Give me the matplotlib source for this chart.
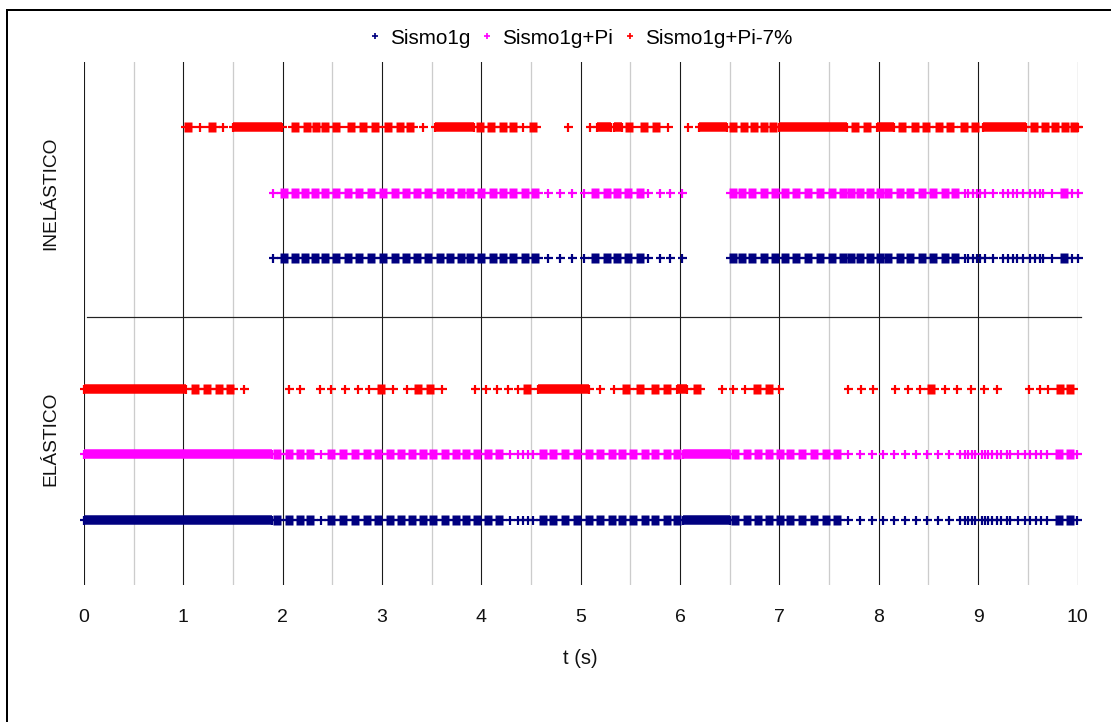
import matplotlib
matplotlib.use("Agg")
import matplotlib.pyplot as plt
from matplotlib.lines import Line2D

plt.rcParams['font.family'] = ['Liberation Sans', 'DejaVu Sans']

# ---------------------------------------------------------------
# State of each analysis along the record (t in seconds).
# spans    : long stretches of consecutive steps in that state
# clusters : short bursts of a few consecutive steps
# singles  : isolated steps
# ---------------------------------------------------------------
series_names = ["Sismo1g", "Sismo1g+Pi", "Sismo1g+Pi-7%"]
series_colors = ["#000080", "#FF00FF", "#FF0000"]
x_ticks = [0, 1, 2, 3, 4, 5, 6, 7, 8, 9, 10]
state_labels = ["ELÁSTICO", "INELÁSTICO"]

# Sismo1g+Pi-7% ------------------------------------------------
red_inel_spans = [(1.50, 1.99), (3.53, 3.93), (5.16, 5.30), (5.33, 5.42),
                  (6.19, 6.47), (7.00, 7.68), (7.98, 8.15), (9.05, 9.48)]
red_inel_clusters = [1.05, 1.285, 2.12, 2.24, 2.34, 2.43, 2.54, 2.69, 2.81,
                     2.93, 3.06, 3.18, 3.28, 3.99, 4.10, 4.22, 4.32, 4.52,
                     5.49, 5.64, 5.76, 6.535, 6.64, 6.74, 6.84, 6.94, 7.76,
                     7.88, 8.23, 8.36, 8.48, 8.61, 8.72, 8.86, 8.97, 9.56,
                     9.67, 9.77, 9.87, 9.96]
red_inel_singles = [1.17, 1.40, 3.415, 4.42, 4.875, 5.09, 5.88, 6.08, 10.0]

red_el_spans = [(0.0, 1.03), (4.57, 5.08), (5.965, 6.065)]
red_el_clusters = [1.12, 1.235, 1.36, 1.47, 2.99, 3.365, 3.48, 4.455, 5.46,
                   5.60, 5.75, 5.865, 6.175, 6.77, 6.89, 8.53, 9.82, 9.92]
red_el_singles = [1.615, 2.06, 2.17, 2.375, 2.49, 2.63, 2.755, 2.87, 3.11,
                  3.25, 3.60, 3.935, 4.05, 4.16, 4.27, 4.37, 5.19, 5.33,
                  6.42, 6.535, 6.65, 7.0, 7.69, 7.82, 7.945, 8.16, 8.29,
                  8.41, 8.67, 8.79, 8.93, 9.06, 9.185, 9.515, 9.62, 9.70]

# Sismo1g+Pi ---------------------------------------------------
mag_inel_spans = []
mag_inel_clusters = [2.01, 2.12, 2.22, 2.33, 2.43, 2.54, 2.66, 2.77, 2.89,
                     3.01, 3.13, 3.24, 3.35, 3.46, 3.58, 3.68, 3.79, 3.885,
                     4.00, 4.12, 4.22, 4.32, 4.44, 4.54, 5.14, 5.26, 5.36,
                     5.48, 5.60, 6.535, 6.62, 6.72, 6.84, 6.955, 7.06, 7.17,
                     7.29, 7.41, 7.53, 7.64, 7.72, 7.81, 7.91, 8.01, 8.09,
                     8.21, 8.31, 8.43, 8.55, 8.67, 8.77, 9.86]
mag_inel_singles = [1.905, 4.67, 4.79, 4.91, 5.03, 5.68, 5.80, 5.90, 6.02,
                    8.87, 8.90, 8.945, 8.985, 9.02, 9.07, 9.15, 9.25, 9.30,
                    9.355, 9.39, 9.45, 9.52, 9.57, 9.62, 9.65, 9.74, 9.94,
                    10.0]

mag_el_spans = [(0.0, 1.89), (6.03, 6.50)]
mag_el_clusters = [1.945, 2.06, 2.17, 2.275, 2.49, 2.61, 2.73, 2.845, 2.96,
                   3.08, 3.19, 3.305, 3.415, 3.515, 3.63, 3.74, 3.845, 3.96,
                   4.07, 4.18, 4.62, 4.72, 4.84, 4.96, 5.08, 5.19, 5.31,
                   5.42, 5.53, 5.65, 5.75, 5.865, 5.965, 6.55, 6.67, 6.78,
                   6.89, 7.01, 7.11, 7.23, 7.35, 7.465, 7.575, 9.81, 9.92]
mag_el_singles = [2.385, 4.29, 4.37, 4.42, 4.47, 4.52, 7.685, 7.81, 7.93,
                  8.04, 8.15, 8.265, 8.375, 8.49, 8.60, 8.71, 8.82, 8.87,
                  8.90, 8.935, 8.97, 9.035, 9.07, 9.10, 9.135, 9.185, 9.235,
                  9.29, 9.32, 9.40, 9.47, 9.52, 9.58, 9.63, 9.69, 9.99]

# Sismo1g: switches state at the same instants as Sismo1g+Pi ----
blue_inel_spans = list(mag_inel_spans)
blue_inel_clusters = list(mag_inel_clusters)
blue_inel_singles = list(mag_inel_singles)
blue_el_spans = list(mag_el_spans)
blue_el_clusters = list(mag_el_clusters)
blue_el_singles = list(mag_el_singles)

# row heights: elastic rows at 1-3, inelastic rows at 5-7
rows = [
    (1, series_colors[0], blue_el_spans, blue_el_clusters, blue_el_singles),
    (2, series_colors[1], mag_el_spans, mag_el_clusters, mag_el_singles),
    (3, series_colors[2], red_el_spans, red_el_clusters, red_el_singles),
    (5, series_colors[0], blue_inel_spans, blue_inel_clusters, blue_inel_singles),
    (6, series_colors[1], mag_inel_spans, mag_inel_clusters, mag_inel_singles),
    (7, series_colors[2], red_inel_spans, red_inel_clusters, red_inel_singles),
]

# ---------------------------------------------------------------
W, H = 1111, 722
PX = 72.0 / 100.0          # points per pixel at dpi 100
fig = plt.figure(figsize=(W / 100, H / 100), dpi=100)
ax = fig.add_axes([84 / W, 1 - 585 / H, (1077.5 - 84) / W, (585 - 62) / H])

PLUS_MS, PLUS_MEW = 9 * PX, 2.2 * PX
BAR_LW = 9.5 * PX
BLOCK = [(-0.4, -0.5), (0.4, -0.5), (0.4, 0.5), (-0.4, 0.5), (-0.4, -0.5)]
BLOCK_MS = 9.5 * PX
ARM_MS = 15 * PX


def draw_row(y, color, spans, clusters, singles):
    for a, b in spans:
        ax.plot([a, b], [y, y], color=color, lw=BAR_LW,
                solid_capstyle='butt', clip_on=False, zorder=3)
    ends = [a for a, b in spans] + [b for a, b in spans]
    ax.plot(ends + list(singles), [y] * (len(ends) + len(singles)), ls='none',
            marker='+', ms=PLUS_MS, mew=PLUS_MEW, color=color,
            clip_on=False, zorder=3)
    ax.plot(clusters, [y] * len(clusters), ls='none', marker=BLOCK,
            ms=BLOCK_MS, mfc=color, mec='none', clip_on=False, zorder=3)
    ax.plot(clusters, [y] * len(clusters), ls='none', marker='_',
            ms=ARM_MS, mew=PLUS_MEW, color=color, clip_on=False, zorder=3)


for r in rows:
    draw_row(*r)

# separator between the two states
ax.plot([0.03, 10.04], [4.1, 4.1], color='#222222', lw=1.2 * PX,
        clip_on=False, zorder=2)

ax.set_xlim(0, 10)
ax.set_ylim(0, 8)
ax.set_xticks(x_ticks)
ax.set_xticks([t + 0.5 for t in x_ticks[:-1]], minor=True)
ax.set_yticks([])
ax.grid(which='major', axis='x', color='#1a1a1a', lw=1.1 * PX, zorder=1)
ax.grid(which='minor', axis='x', color='#cccccc', lw=1.3 * PX, zorder=1)
ax.set_axisbelow(True)
ax.tick_params(axis='x', which='both', length=0, pad=17, labelsize=14,
               labelcolor='#111111')
for s in ax.spines.values():
    s.set_visible(False)

fig.text(580.5 / W, 1 - 658 / H, "t (s)", ha='center', va='center',
         fontsize=14.5, color='#111111')
fig.text(51 / W, 1 - 193 / H, state_labels[1], rotation=90, ha='center',
         va='center', fontsize=13.8, color='#111111')
fig.text(51 / W, 1 - 439 / H, state_labels[0], rotation=90, ha='center',
         va='center', fontsize=13.8, color='#111111')

handles = [Line2D([], [], ls='none', marker='+', ms=6.5 * PX,
                  mew=1.7 * PX, color=c) for c in series_colors]
fig.legend(handles, series_names, loc='center', ncol=3, frameon=False,
           bbox_to_anchor=(581 / W, 1 - 38 / H), fontsize=14.9,
           handlelength=0.55, handletextpad=0.45, columnspacing=0.55,
           borderpad=0, borderaxespad=0)

# outer frame of the chart area
fig.add_artist(Line2D([7 / W, 7 / W], [0, 1 - 10 / H], color='black',
                      lw=2 * PX, transform=fig.transFigure))
fig.add_artist(Line2D([7 / W, 1], [1 - 10 / H, 1 - 10 / H], color='black',
                      lw=2 * PX, transform=fig.transFigure))

fig.savefig("out.png", dpi=100)
